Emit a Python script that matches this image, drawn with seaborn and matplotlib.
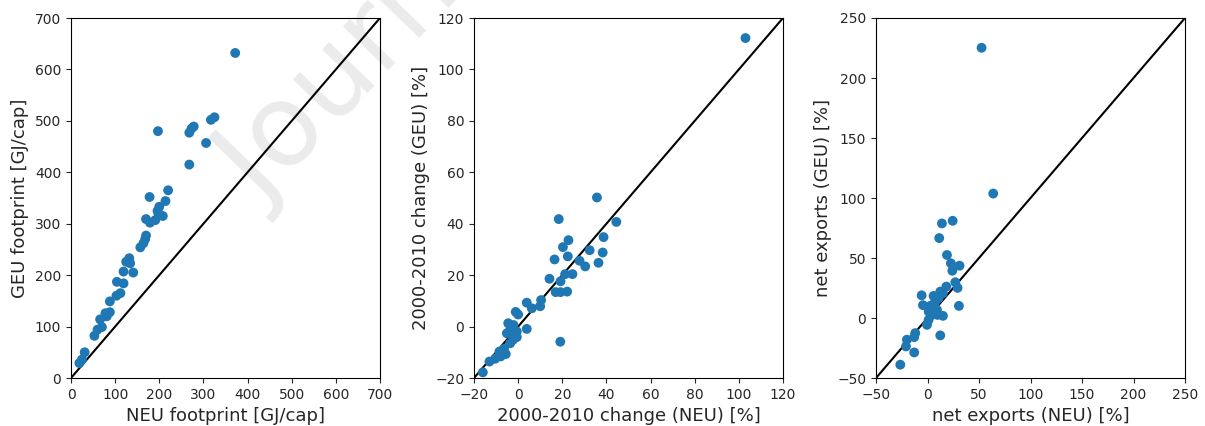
import matplotlib
matplotlib.use("Agg")
import matplotlib.pyplot as plt
import seaborn as sns
import pandas as pd

# Panel 1: footprints [GJ/cap]
neu_fp = [372, 197, 268, 273, 278, 306, 317, 325, 268, 220, 214, 178, 200, 196, 208,
          191, 170, 179, 198, 170, 168, 164, 157, 132, 125, 134, 141, 119, 104, 119,
          112, 103, 88, 88, 78, 81, 66, 70, 60, 53, 31, 25, 19]
geu_fp = [632, 480, 477, 485, 489, 457, 502, 507, 415, 365, 344, 352, 333, 325, 315,
          307, 309, 302, 320, 277, 270, 262, 254, 233, 226, 223, 205, 207, 187, 184,
          165, 160, 149, 128, 126, 120, 114, 99, 94, 82, 50, 36, 29]

# Panel 2: 2000-2010 change [%]
neu_chg = [103, 35.7, 18.4, 44.5, 22.8, 38.7, 20.3, 32.4, 38.3, 22.5, 16.5, 27.8, 30.4,
           36.4, 14.2, 24.6, 21.3, 19.2, 17.0, 19.2, 22.2, 10.4, 10.0, 6.2, 3.9, -1.1,
           0.0, -4.5, 3.9, -2.1, -3.6, -5.1, -0.6, -2.4, -3.6, -6.4, -8.5, -7.9, -5.6,
           -10.4, -13.0, -16.0, 19.1, -0.6, -1.4]
geu_chg = [112.2, 50.2, 41.8, 40.7, 33.6, 34.8, 30.9, 29.7, 28.8, 27.3, 26.1, 25.6, 23.4,
           24.8, 18.6, 20.4, 20.4, 17.6, 13.4, 13.4, 13.6, 10.3, 7.9, 7.1, 9.3, 5.7,
           4.7, 1.3, -0.9, 0.6, -1.3, -2.6, -4.1, -5.2, -6.5, -8.7, -9.7, -11.6, -10.7,
           -12.5, -13.6, -17.8, -5.9, -1.9, -3.0]

# Panel 3: net exports [%]
neu_nx = [52.5, 63.8, 14.0, 24.4, 11.4, 18.9, 22.7, 31.1, 24.1, -5.7, 27.0, 29.2, 18.3,
          12.4, 5.9, -4.4, 30.5, 15.0, 2.7, 7.5, 10.8, 1.1, 4.3, 9.2, -0.5, 1.1, 12.4,
          -11.9, -20.0, -12.9, -20.9, -12.9, -26.4, 15.0, 6.5, 5.2, 9.7]
geu_nx = [225.2, 103.7, 78.8, 81.0, 66.6, 52.5, 45.6, 43.6, 39.4, 18.9, 29.8, 25.1, 26.2,
          22.0, 18.4, 10.7, 10.1, 1.8, 10.1, 13.7, 16.5, 5.4, 2.6, 6.8, -5.7, -1.5, -14.5,
          -12.6, -18.1, -15.9, -23.7, -28.7, -38.9, 20.6, 10.9, 6.8, 2.6]

panels = [
    (neu_fp, geu_fp, (0, 700), "NEU footprint [GJ/cap]", "GEU footprint [GJ/cap]"),
    (neu_chg, geu_chg, (-20, 120), "2000-2010 change (NEU) [%]", "2000-2010 change (GEU) [%]"),
    (neu_nx, geu_nx, (-50, 250), "net exports (NEU) [%]", "net exports (GEU) [%]"),
]

sns.set_style("ticks")
plt.rcParams["font.family"] = ["DejaVu Sans"]

fig = plt.figure(figsize=(12.05, 4.26), dpi=100)
fig.patch.set_facecolor("white")
lefts = [71 / 1205, 474 / 1205, 876 / 1205]
w = 309 / 1205
b = 1 - 378 / 426
h = 360 / 426

# watermark behind the (transparent) axes, running off the top edge as in the reference
fig.text(262 / 1205, 1 - 207 / 426, "Journal", fontsize=82, color="#ebebeb",
         rotation=46, rotation_mode="anchor", ha="left", va="baseline", zorder=-1)

for left, (xv, yv, lim, xl, yl) in zip(lefts, panels):
    ax = fig.add_axes([left, b, w, h])
    ax.patch.set_alpha(0)
    df = pd.DataFrame({"x": xv, "y": yv})
    ax.plot(lim, lim, color="black", lw=1.5, zorder=1)
    sns.scatterplot(data=df, x="x", y="y", ax=ax, color="#1f77b4", s=50,
                    edgecolor="none", zorder=2)
    ax.set_xlim(lim)
    ax.set_ylim(lim)
    ax.set_xlabel(xl, fontsize=13)
    ax.set_ylabel(yl, fontsize=13)
    ax.tick_params(labelsize=10)
    for sp in ax.spines.values():
        sp.set_visible(True)
        sp.set_color("black")

fig.savefig("out.png", dpi=100, facecolor="white")
